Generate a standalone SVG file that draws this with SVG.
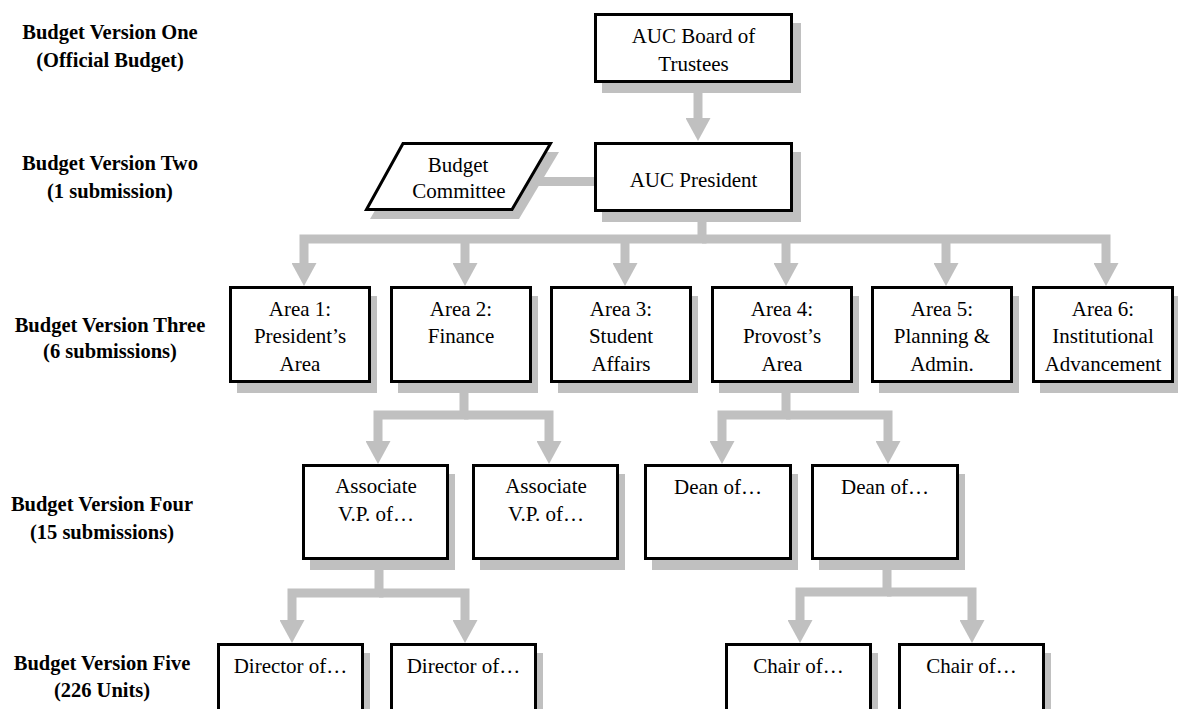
<svg xmlns="http://www.w3.org/2000/svg" width="1178" height="709" viewBox="0 0 1178 709">
<style>
.lbl{font-family:"Liberation Serif","Times New Roman",serif;font-weight:bold;font-size:20.5px;text-anchor:middle;fill:#000}
.t{font-family:"Liberation Serif","Times New Roman",serif;font-size:21px;text-anchor:middle;fill:#000}
.box{fill:#fff;stroke:#000;stroke-width:3}
.sh{fill:#c0c0c0}
.c{fill:none;stroke:#c0c0c0;stroke-width:9;stroke-linejoin:miter}
.ca{fill:none;stroke:#c0c0c0;stroke-width:9;stroke-linejoin:miter;marker-end:url(#ah)}
</style>
<defs>
<marker id="ah" markerUnits="userSpaceOnUse" viewBox="0 0 23 25" markerWidth="23" markerHeight="25" refX="0" refY="12.5" orient="auto">
<path d="M0,0 L23,12.5 L0,25 Z" fill="#c0c0c0"/>
</marker>
</defs>
<rect width="1178" height="709" fill="#fff"/>

<g id="labels">
<text class="lbl" x="110" y="39">Budget Version One</text>
<text class="lbl" x="110" y="67">(Official Budget)</text>
<text class="lbl" x="110" y="170">Budget Version Two</text>
<text class="lbl" x="110" y="198">(1 submission)</text>
<text class="lbl" x="110" y="332">Budget Version Three</text>
<text class="lbl" x="110" y="358">(6 submissions)</text>
<text class="lbl" x="102" y="511">Budget Version Four</text>
<text class="lbl" x="102" y="539">(15 submissions)</text>
<text class="lbl" x="102" y="670">Budget Version Five</text>
<text class="lbl" x="102" y="697">(226 Units)</text>
</g>

<g id="connectors">
<path class="ca" d="M698,83 V118"/>
<path class="c" d="M530,181.5 H596"/>
<path class="ca" d="M702,212 V239 H304 V263"/>
<path class="ca" d="M702,239 H1106 V263"/>
<path class="ca" d="M465,239 V263"/>
<path class="ca" d="M625,239 V263"/>
<path class="ca" d="M786,239 V263"/>
<path class="ca" d="M946,239 V263"/>
<path class="ca" d="M464,383 V415 H378 V441"/>
<path class="ca" d="M464,415 H549 V441"/>
<path class="ca" d="M786,383 V415 H722 V441"/>
<path class="ca" d="M786,415 H888 V441"/>
<path class="ca" d="M379,560 V593 H292 V620"/>
<path class="ca" d="M379,593 H465 V620"/>
<path class="ca" d="M887,560 V592 H800 V620"/>
<path class="ca" d="M887,592 H972 V620"/>
</g>

<g id="board">
<rect class="sh" x="602" y="23" width="199" height="70"/>
<rect class="box" x="595.5" y="14.5" width="196" height="67"/>
<text class="t" x="693.5" y="43">AUC Board of</text>
<text class="t" x="693.5" y="71">Trustees</text>
</g>

<g id="committee">
<polygon class="sh" points="409,152 559,152 519,219 370,219"/>
<polygon class="box" points="403,143.5 550.5,143.5 512,209.5 366.5,209.5"/>
<text class="t" x="458" y="172">Budget</text>
<text class="t" x="459" y="198">Committee</text>
</g>

<g id="president">
<rect class="sh" x="602" y="152" width="199" height="70"/>
<rect class="box" x="595.5" y="143.5" width="196" height="67"/>
<text class="t" x="693.5" y="187">AUC President</text>
</g>

<g id="area1">
<rect class="sh" x="237" y="296" width="140" height="97"/>
<rect class="box" x="230.5" y="287.5" width="139" height="94"/>
<text class="t" x="300" y="316">Area 1:</text>
<text class="t" x="300" y="343">President’s</text>
<text class="t" x="300" y="371">Area</text>
</g>

<g id="area2">
<rect class="sh" x="398" y="296" width="140" height="97"/>
<rect class="box" x="391.5" y="287.5" width="139" height="94"/>
<text class="t" x="461" y="316">Area 2:</text>
<text class="t" x="461" y="343">Finance</text>
</g>

<g id="area3">
<rect class="sh" x="558" y="296" width="140" height="97"/>
<rect class="box" x="551.5" y="287.5" width="139" height="94"/>
<text class="t" x="621" y="316">Area 3:</text>
<text class="t" x="621" y="343">Student</text>
<text class="t" x="621" y="371">Affairs</text>
</g>

<g id="area4">
<rect class="sh" x="719" y="296" width="140" height="97"/>
<rect class="box" x="712.5" y="287.5" width="139" height="94"/>
<text class="t" x="782" y="316">Area 4:</text>
<text class="t" x="782" y="343">Provost’s</text>
<text class="t" x="782" y="371">Area</text>
</g>

<g id="area5">
<rect class="sh" x="879" y="296" width="140" height="97"/>
<rect class="box" x="872.5" y="287.5" width="139" height="94"/>
<text class="t" x="942" y="316">Area 5:</text>
<text class="t" x="942" y="343">Planning &amp;</text>
<text class="t" x="942" y="371">Admin.</text>
</g>

<g id="area6">
<rect class="sh" x="1040" y="296" width="140" height="97"/>
<rect class="box" x="1033.5" y="287.5" width="139" height="94"/>
<text class="t" x="1103" y="316">Area 6:</text>
<text class="t" x="1103" y="343">Institutional</text>
<text class="t" x="1103" y="371">Advancement</text>
</g>

<g id="assoc1">
<rect class="sh" x="310" y="474" width="145" height="96"/>
<rect class="box" x="303.5" y="465.5" width="144" height="93"/>
<text class="t" x="376" y="493">Associate</text>
<text class="t" x="376" y="521">V.P. of…</text>
</g>

<g id="assoc2">
<rect class="sh" x="480" y="474" width="145" height="96"/>
<rect class="box" x="473.5" y="465.5" width="144" height="93"/>
<text class="t" x="546" y="493">Associate</text>
<text class="t" x="546" y="521">V.P. of…</text>
</g>

<g id="dean1">
<rect class="sh" x="652" y="474" width="146" height="96"/>
<rect class="box" x="645.5" y="465.5" width="145" height="93"/>
<text class="t" x="718" y="494">Dean of…</text>
</g>

<g id="dean2">
<rect class="sh" x="819" y="474" width="146" height="96"/>
<rect class="box" x="812.5" y="465.5" width="145" height="93"/>
<text class="t" x="885" y="494">Dean of…</text>
</g>

<g id="director1">
<rect class="sh" x="225" y="653" width="145" height="96"/>
<rect class="box" x="218.5" y="644.5" width="144" height="93"/>
<text class="t" x="290.5" y="673">Director of…</text>
</g>

<g id="director2">
<rect class="sh" x="398" y="653" width="145" height="96"/>
<rect class="box" x="391.5" y="644.5" width="144" height="93"/>
<text class="t" x="463.5" y="673">Director of…</text>
</g>

<g id="chair1">
<rect class="sh" x="733" y="653" width="145" height="96"/>
<rect class="box" x="726.5" y="644.5" width="144" height="93"/>
<text class="t" x="798.5" y="673">Chair of…</text>
</g>

<g id="chair2">
<rect class="sh" x="906" y="653" width="145" height="96"/>
<rect class="box" x="899.5" y="644.5" width="144" height="93"/>
<text class="t" x="971.5" y="673">Chair of…</text>
</g>
</svg>
